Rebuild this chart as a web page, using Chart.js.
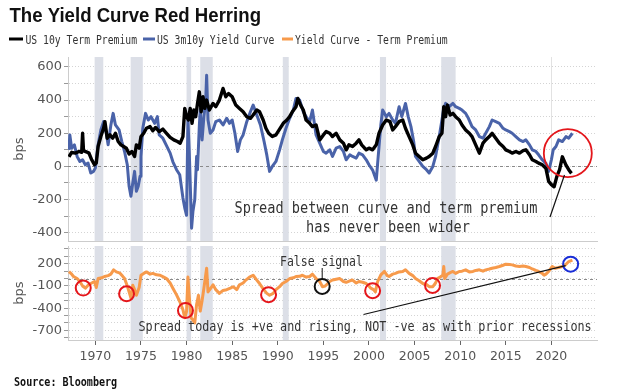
<!DOCTYPE html>
<html><head><meta charset="utf-8">
<script src="https://cdn.jsdelivr.net/npm/chart.js@4.4.0/dist/chart.umd.min.js"></script>
<style>
html,body{margin:0;padding:0;background:#fff;}
#wrap{position:relative;width:628px;height:392px;overflow:hidden;background:#fff}
canvas{position:absolute;left:0;top:0}
</style>
</head><body>
<div id="wrap"><canvas id="c1" width="628" height="392"></canvas><canvas id="c2" width="628" height="392"></canvas></div>
<script>
// ---------- DATA ----------
const seriesNames = ['US 10y Term Premium', 'US 3m10y Yield Curve', 'Yield Curve - Term Premium'];

const tpYears = [1967.1,1967.4,1967.8,1968.2,1968.5,1968.6,1968.7,1969.0,1969.3,1969.6,1969.9,1970.1,1970.3,1970.6,1970.9,1971.05,1971.3,1971.6,1971.9,1972.2,1972.5,1972.8,1973.1,1973.4,1973.7,1974.0,1974.3,1974.5,1974.8,1975.0,1975.3,1975.6,1976.0,1976.3,1976.6,1977.0,1977.4,1977.8,1978.2,1978.6,1979.0,1979.3,1979.6,1979.8,1980.0,1980.2,1980.4,1980.6,1980.8,1981.0,1981.2,1981.4,1981.6,1981.8,1982.0,1982.2,1982.5,1982.9,1983.2,1983.6,1984.0,1984.3,1984.6,1985.0,1985.4,1985.8,1986.2,1986.6,1987.0,1987.3,1987.7,1988.0,1988.4,1988.7,1989.0,1989.4,1989.8,1990.2,1990.6,1991.0,1991.3,1991.6,1992.0,1992.2,1992.5,1992.8,1993.1,1993.5,1993.8,1994.2,1994.6,1995.0,1995.3,1995.7,1996.0,1996.4,1996.8,1997.2,1997.5,1997.8,1998.2,1998.6,1998.9,1999.2,1999.7,2000.0,2000.4,2000.8,2001.1,2001.5,2001.9,2002.3,2002.6,2002.9,2003.3,2003.7,2004.0,2004.4,2004.8,2005.1,2005.5,2005.9,2006.3,2006.6,2007.0,2007.3,2007.7,2008.0,2008.2,2008.4,2008.6,2008.9,2009.2,2009.5,2009.9,2010.2,2010.6,2011.0,2011.3,2011.7,2012.1,2012.5,2012.8,2013.2,2013.5,2013.9,2014.3,2014.7,2015.0,2015.4,2015.7,2016.1,2016.5,2016.9,2017.2,2017.6,2017.9,2018.3,2018.6,2019.0,2019.4,2019.7,2020.0,2020.3,2020.6,2020.9,2021.2,2021.6,2021.9,2022.2];
const tpValues = [58,85,80,90,85,200,95,88,80,40,10,20,120,180,230,270,170,190,170,200,150,130,120,110,75,90,60,130,110,180,200,230,240,215,235,210,225,200,175,160,150,140,180,350,300,280,350,260,340,300,380,450,330,420,350,400,340,380,360,400,470,420,440,420,370,350,330,300,290,310,340,330,280,230,200,180,190,225,260,280,300,330,360,410,370,340,280,260,240,250,160,190,210,200,180,200,160,140,100,130,120,140,160,130,100,110,100,130,200,250,280,270,220,240,270,280,230,180,130,80,60,40,50,60,80,120,180,200,360,300,370,310,320,300,280,250,220,200,180,130,80,140,160,180,200,170,140,120,100,90,80,90,80,95,100,70,40,30,20,10,-12,-90,-110,-123,-60,-20,58,8,-20,-42];

const ycYears = [1967.1,1967.2,1967.4,1967.7,1968.0,1968.3,1968.6,1968.9,1969.2,1969.5,1969.8,1970.0,1970.3,1970.6,1970.9,1971.2,1971.4,1971.7,1971.95,1972.2,1972.6,1972.9,1973.2,1973.5,1973.7,1973.9,1974.1,1974.3,1974.5,1974.7,1974.9,1975.0,1975.2,1975.5,1975.8,1976.1,1976.5,1976.8,1977.0,1977.4,1977.8,1978.2,1978.5,1978.9,1979.25,1979.6,1979.8,1980.0,1980.15,1980.3,1980.55,1980.7,1980.9,1981.1,1981.2,1981.4,1981.5,1981.7,1981.9,1982.1,1982.2,1982.35,1982.6,1982.9,1983.2,1983.6,1984.0,1984.4,1984.7,1985.0,1985.3,1985.6,1985.9,1986.2,1986.6,1987.0,1987.3,1987.7,1988.1,1988.5,1988.8,1989.1,1989.4,1989.8,1990.2,1990.5,1990.9,1991.3,1991.7,1992.0,1992.4,1992.8,1993.1,1993.5,1993.8,1994.2,1994.6,1995.0,1995.3,1995.7,1996.0,1996.4,1996.8,1997.2,1997.5,1997.9,1998.2,1998.6,1998.9,1999.3,1999.7,2000.0,2000.4,2000.8,2001.1,2001.3,2001.5,2001.9,2002.2,2002.6,2002.9,2003.3,2003.6,2004.0,2004.3,2004.6,2004.9,2005.1,2005.5,2005.9,2006.3,2006.6,2007.0,2007.3,2007.7,2008.0,2008.2,2008.4,2008.8,2009.2,2009.5,2009.9,2010.2,2010.6,2010.9,2011.3,2011.7,2012.1,2012.5,2012.8,2013.2,2013.5,2013.9,2014.3,2014.7,2015.0,2015.4,2015.7,2016.1,2016.5,2016.9,2017.2,2017.6,2017.9,2018.3,2018.6,2019.0,2019.4,2019.7,2020.0,2020.2,2020.5,2020.8,2021.2,2021.6,2021.9,2022.3];
const ycValues = [100,190,110,130,60,30,40,10,20,-40,-30,-10,130,220,270,200,130,250,320,250,220,150,90,10,-120,-180,-100,-30,-150,-120,-60,60,230,320,280,300,260,300,190,170,125,80,28,-20,-50,-190,-250,-295,280,80,-373,-270,-200,60,-20,245,345,160,300,400,550,280,200,220,270,280,250,290,260,280,200,90,160,190,270,330,370,310,250,150,68,-30,0,30,100,160,230,290,340,410,400,330,300,270,340,190,140,90,80,100,60,110,120,90,40,70,60,50,80,70,40,10,-22,-83,120,250,340,300,320,280,260,360,300,380,300,240,150,60,30,0,-20,-40,0,60,180,280,350,380,360,380,360,350,340,320,290,240,220,180,170,200,240,280,270,260,230,220,210,200,180,160,150,160,130,100,90,70,40,18,-30,40,100,120,160,150,180,170,200];

const spYears = [1967.1,1967.4,1967.6,1968.0,1968.3,1968.6,1968.9,1969.2,1969.5,1969.9,1970.1,1970.3,1970.7,1971.0,1971.4,1971.7,1972.0,1972.3,1972.7,1973.0,1973.2,1973.5,1973.7,1973.9,1974.1,1974.3,1974.5,1974.8,1975.0,1975.3,1975.6,1976.0,1976.3,1976.7,1977.1,1977.5,1977.8,1978.2,1978.5,1978.9,1979.25,1979.6,1979.8,1980.0,1980.15,1980.3,1980.5,1980.7,1980.9,1981.1,1981.3,1981.5,1981.7,1981.9,1982.2,1982.35,1982.6,1982.9,1983.2,1983.6,1984.0,1984.4,1984.8,1985.1,1985.5,1985.8,1986.2,1986.5,1986.9,1987.3,1987.7,1988.0,1988.4,1988.8,1989.1,1989.5,1989.8,1990.2,1990.5,1990.9,1991.3,1991.7,1992.0,1992.4,1992.7,1993.1,1993.5,1993.8,1994.2,1994.6,1994.9,1995.2,1995.7,1996.0,1996.4,1996.8,1997.2,1997.5,1997.9,1998.2,1998.6,1998.9,1999.3,1999.7,2000.0,2000.2,2000.5,2000.7,2000.95,2001.3,2001.7,2002.0,2002.2,2002.6,2002.9,2003.3,2003.7,2004.0,2004.4,2004.8,2005.1,2005.5,2005.9,2006.3,2006.6,2007.0,2007.3,2007.5,2007.8,2008.1,2008.2,2008.3,2008.6,2008.9,2009.2,2009.5,2009.9,2010.2,2010.6,2011.0,2011.4,2011.7,2012.1,2012.5,2012.8,2013.2,2013.5,2013.9,2014.3,2014.7,2015.0,2015.4,2015.7,2016.1,2016.5,2016.9,2017.2,2017.6,2017.9,2018.3,2018.6,2019.0,2019.2,2019.4,2019.7,2020.1,2020.4,2020.8,2021.2,2021.5,2021.9,2022.3];
const spValues = [96,60,28,0,-40,-100,-130,-90,-67,-40,-120,0,10,28,40,60,118,90,73,30,0,-100,-180,-263,-90,-150,-225,-120,45,70,90,60,70,50,45,20,0,-60,-130,-220,-310,-420,-530,-443,20,-250,-530,-560,-600,-350,-225,-440,-300,-130,140,-180,-140,-85,-150,-200,-160,-150,-130,-110,-150,-85,-60,-20,20,45,-20,-67,-140,-200,-225,-200,-150,-110,-67,-40,0,10,28,30,45,20,28,60,0,-40,-110,-100,-40,-20,-10,0,-40,-50,-30,-20,-60,-40,-50,-67,-100,-130,-150,-180,-40,50,96,40,28,60,70,90,96,120,70,40,0,-30,-67,-80,-110,-110,-60,0,20,45,163,0,60,80,96,70,96,100,118,90,96,110,118,100,118,130,140,150,163,180,195,190,185,170,163,170,163,150,130,110,96,70,45,60,96,163,140,150,163,180,230,250];

const recessionStarts = [1969.92, 1973.87, 1980.0, 1981.5, 1990.55, 2001.2, 2007.92];
const recessionEnds   = [1970.87, 1975.2, 1980.5, 1982.87, 1991.2, 2001.87, 2009.5];
const xTickYears = [1970, 1975, 1980, 1985, 1990, 1995, 2000, 2005, 2010, 2015, 2020];
const topTickValues = [-400,-300,-200,-100,0,100,200,300,400,500,600];
const topTickLabels = [-400,-200,0,200,400,600];
const botTickValues = [-800,-700,-600,-500,-400,-300,-200,-100,0,100,200,300,400];
const botTickLabels = [-700,-400,-100,200];

// annotation targets (year, value)
const redCircleTargets = [[1968.67,-128],[1973.42,-205],[1979.88,-430],[1988.99,-218],[2000.4,-164],[2006.97,-93]];
const falseSignalTarget = [1994.87,-106];
const todayTarget = [2022.11,195];
const topCircleTarget = [2021.8,80];

// ---------- STYLE ----------
const COL_BLACK = '#000000', COL_BLUE = '#4a63a9', COL_ORANGE = '#f79a4b';
const MONO = '"DejaVu Sans Mono", "Liberation Mono", monospace';
Chart.defaults.font.family = '"DejaVu Sans", sans-serif';
Chart.defaults.color = '#555';

function pts(xs, ys){ return xs.map((x,i)=>({x:x, y:ys[i]})); }

function txt(ctx, s, x, y, font, color, sx, align){
  ctx.save();
  ctx.font = font; ctx.fillStyle = color; ctx.textBaseline = 'alphabetic';
  ctx.textAlign = align || 'left';
  ctx.translate(x, y); ctx.scale(sx, 1);
  ctx.fillText(s, 0, 0);
  ctx.restore();
}
function circle(ctx, x, y, r, color, w){
  ctx.save(); ctx.beginPath(); ctx.arc(x, y, r, 0, Math.PI*2);
  ctx.strokeStyle = color; ctx.lineWidth = w; ctx.stroke(); ctx.restore();
}
function seg(ctx, x1, y1, x2, y2, color, w){
  ctx.save(); ctx.beginPath(); ctx.moveTo(x1,y1); ctx.lineTo(x2,y2);
  ctx.strokeStyle = color; ctx.lineWidth = w; ctx.stroke(); ctx.restore();
}

const decor = {
  id: 'decor',
  beforeDatasetsDraw(chart){
    const {ctx, chartArea:a, scales:{x, y}} = chart;
    ctx.save();
    ctx.fillStyle = '#dcdfe7';
    recessionStarts.forEach((s,i)=>{
      const x1 = x.getPixelForValue(s), x2 = x.getPixelForValue(recessionEnds[i]);
      ctx.fillRect(x1, a.top, x2-x1, a.bottom-a.top);
    });
    const xv = x.getPixelForValue(2020);
    seg(ctx, Math.round(xv)+0.5, a.top, Math.round(xv)+0.5, a.bottom, '#e2e2e2', 1);
    const y0 = Math.round(y.getPixelForValue(0))+0.5;
    ctx.beginPath(); ctx.setLineDash([3,3]);
    ctx.moveTo(a.left, y0); ctx.lineTo(a.right, y0);
    ctx.strokeStyle = '#8a8a8a'; ctx.lineWidth = 1; ctx.stroke();
    ctx.restore();
  }
};

const xBase = {
  type: 'linear', min: 1967, max: 2025,
  afterBuildTicks(scale){ scale.ticks = xTickYears.map(v => ({value: v})); }
};

// ---------- TOP CHART ----------
const topAnnot = {
  id: 'topAnnot',
  afterDraw(chart){
    const {ctx, scales:{x, y}} = chart;
    txt(ctx, 'The Yield Curve Red Herring', 9.5, 21.5, 'bold 20px "Liberation Sans", Arial, sans-serif', '#111', 0.93);
    const lx = [[9, 23, 25.5], [143, 155, 157], [282, 293, 295]];
    const lc = [COL_BLACK, COL_BLUE, COL_ORANGE];
    seriesNames.forEach((n,i)=>{
      seg(ctx, lx[i][0], 39, lx[i][1], 39, lc[i], 3);
      txt(ctx, n, lx[i][2], 43.5, '13px ' + MONO, '#333', 0.75);
    });
    txt(ctx, 'Spread between curve and term premium', 386, 213, '16px ' + MONO, '#333', 0.85, 'center');
    txt(ctx, 'has never been wider', 388, 231.5, '16px ' + MONO, '#333', 0.85, 'center');
    const cx = x.getPixelForValue(topCircleTarget[0]), cy = y.getPixelForValue(topCircleTarget[1]);
    circle(ctx, cx, cy, 24, '#e4161b', 1.8);
    seg(ctx, 550, 217, 564.5, 175, '#111', 1.2);
  }
};

new Chart(document.getElementById('c1'), {
  type: 'line',
  data: {
    datasets: [
      {label: seriesNames[0], data: pts(tpYears, tpValues), borderColor: COL_BLACK, borderWidth: 3.4},
      {label: seriesNames[1], data: pts(ycYears, ycValues), borderColor: COL_BLUE, borderWidth: 3}
    ]
  },
  options: {
    responsive: false, animation: false,
    elements: {point: {radius: 0}, line: {tension: 0, borderJoinStyle: 'round'}},
    layout: {padding: {top: 57, right: 31, bottom: 151, left: 0}},
    plugins: {legend: {display: false}, tooltip: {enabled: false}},
    scales: {
      x: Object.assign({}, xBase, {
        ticks: {display: false},
        grid: {drawOnChartArea: false, drawTicks: false},
        border: {display: true, color: '#cccccc'},
        afterFit(s){ s.height = 0; }
      }),
      y: {
        min: -450, max: 660,
        afterBuildTicks(scale){ scale.ticks = topTickValues.map(v => ({value: v})); },
        ticks: {autoSkip: false, padding: 2, color: '#555', font: {size: 13},
          callback: v => (topTickLabels.includes(v) ? String(v) : '')},
        grid: {color: '#d4d4d4', tickLength: 4, tickColor: '#999'},
        border: {display: true, color: '#cccccc', dash: [1,2]},
        title: {display: true, text: 'bps', color: '#555', font: {size: 13}, padding: {top: 12, bottom: 0}},
        afterFit(s){ s.width = 68; }
      }
    }
  },
  plugins: [decor, topAnnot]
});

// ---------- BOTTOM CHART ----------
const botAnnot = {
  id: 'botAnnot',
  afterDraw(chart){
    const {ctx, scales:{x, y}} = chart;
    redCircleTargets.forEach(p => circle(ctx, x.getPixelForValue(p[0]), y.getPixelForValue(p[1]), 7.5, '#e4161b', 2));
    const fx = x.getPixelForValue(falseSignalTarget[0]), fy = y.getPixelForValue(falseSignalTarget[1]);
    circle(ctx, fx, fy, 7.5, '#111', 2);
    seg(ctx, fx, 268, fx, fy - 7.5, '#111', 1);
    const tx = x.getPixelForValue(todayTarget[0]), ty = y.getPixelForValue(todayTarget[1]);
    circle(ctx, tx, ty, 7.5, '#1a2ed6', 2);
    seg(ctx, 363.5, 314.5, tx - 5, ty + 1.5, '#111', 1.2);
    txt(ctx, 'False signal', 280, 266, '14px ' + MONO, '#333', 0.82);
    txt(ctx, 'Spread today is +ve and rising, NOT -ve as with prior recessions', 138.5, 330.5, '14px ' + MONO, '#333', 0.84);
    txt(ctx, 'Source: Bloomberg', 14, 386, 'bold 12px ' + MONO, '#111', 0.84);
  }
};

new Chart(document.getElementById('c2'), {
  type: 'line',
  data: {
    datasets: [
      {label: seriesNames[2], data: pts(spYears, spValues), borderColor: COL_ORANGE, borderWidth: 3}
    ]
  },
  options: {
    responsive: false, animation: false,
    elements: {point: {radius: 0}, line: {tension: 0, borderJoinStyle: 'round'}},
    layout: {padding: {top: 246, right: 31, bottom: 22, left: 0}},
    plugins: {legend: {display: false}, tooltip: {enabled: false}},
    scales: {
      x: Object.assign({}, xBase, {
        ticks: {autoSkip: false, maxRotation: 0, padding: 4, color: '#555', font: {size: 12.5},
          callback: v => String(v)},
        grid: {drawOnChartArea: false, drawTicks: true, tickLength: 5, tickColor: '#666'},
        border: {display: true, color: '#cccccc'},
        afterFit(s){ s.height = 30; }
      }),
      y: {
        min: -830, max: 440,
        afterBuildTicks(scale){ scale.ticks = botTickValues.map(v => ({value: v})); },
        ticks: {autoSkip: false, padding: 2, color: '#555', font: {size: 13},
          callback: v => (botTickLabels.includes(v) ? String(v) : '')},
        grid: {color: '#d4d4d4', tickLength: 4, tickColor: '#999'},
        border: {display: true, color: '#cccccc', dash: [1,2]},
        title: {display: true, text: 'bps', color: '#555', font: {size: 13}, padding: {top: 12, bottom: 0}},
        afterFit(s){ s.width = 68; }
      }
    }
  },
  plugins: [decor, botAnnot]
});
</script>
</body></html>
